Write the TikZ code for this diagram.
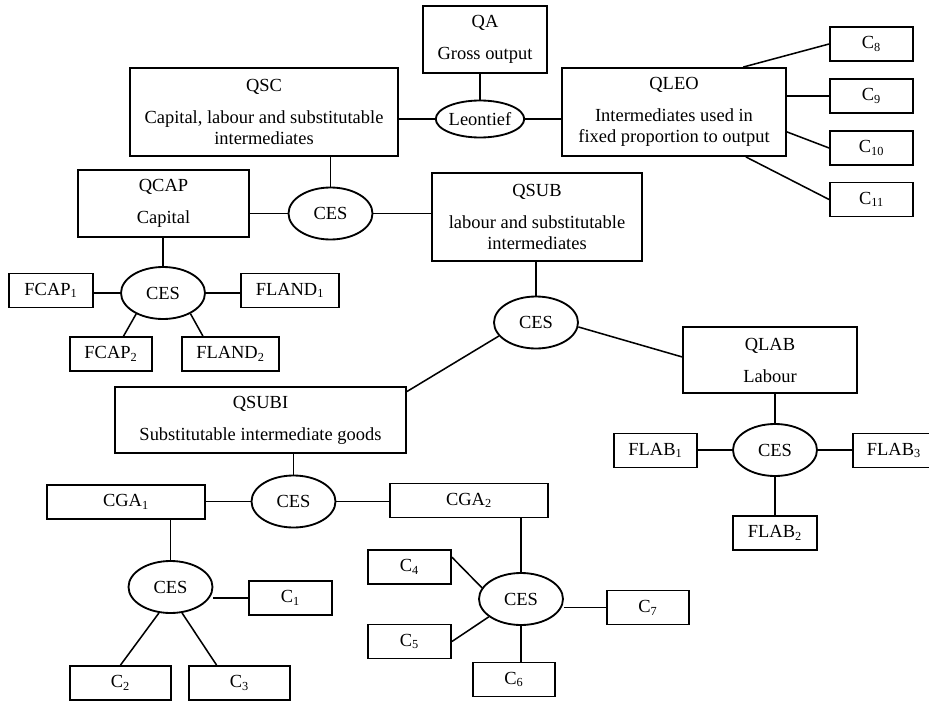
\documentclass[tikz,border=0pt]{standalone}
\usepackage{fontspec}
\setmainfont{Liberation Serif}
\usetikzlibrary{shapes.geometric}

\begin{document}
\begin{tikzpicture}[
  x=0.65pt,
  y=-0.65pt,
  every node/.style={font=\fontsize{12}{13.8}\selectfont},
  nest/.style 2 args={draw, line width=1.2pt, inner sep=0pt, align=center,
    minimum width=#1*0.65pt, minimum height=#2*0.65pt},
  input/.style={nest={#1}{34}},
  ces/.style={draw, ellipse, line width=1.2pt, inner sep=0pt,
    minimum width=84*0.65pt, minimum height=52*0.65pt},
  link/.style={line width=1pt},
]
\useasboundingbox (0,0) rectangle (929,702);

% Top level
\node[nest={124}{67}] (qa) at (485,39.5) {QA\\[7pt]Gross output};
\node[ces, minimum height=37*0.65pt] (leon) at (480,119) {Leontief};
\node[nest={268}{88}] (qsc) at (264,112) {QSC\\[7pt]Capital, labour and substitutable\\intermediates};
\node[nest={224}{88}] (qleo) at (674,112) {QLEO\\[7pt]Intermediates used in\\fixed proportion to output};

% Leontief intermediates
\node[input=83] (c8) at (871.5,44) {C\textsubscript{8}};
\node[input=83] (c9) at (871.5,96) {C\textsubscript{9}};
\node[input=83] (c10) at (871.5,148) {C\textsubscript{10}};
\node[input=83] (c11) at (871.5,199.5) {C\textsubscript{11}};

% Capital, labour and substitutable intermediates
\node[ces] (cesa) at (330.5,213.5) {CES};
\node[nest={171}{67}] (qcap) at (163.5,203.5) {QCAP\\[7pt]Capital};
\node[nest={210}{88}] (qsub) at (537,217) {QSUB\\[7pt]labour and substitutable\\intermediates};

% Capital
\node[ces] (cesb) at (163,293) {CES};
\node[input=84] (fcap1) at (51,290.5) {FCAP\textsubscript{1}};
\node[input=98] (fland1) at (290,290.5) {FLAND\textsubscript{1}};
\node[input=82] (fcap2) at (111,354) {FCAP\textsubscript{2}};
\node[input=97] (fland2) at (230.5,354) {FLAND\textsubscript{2}};

% Labour and substitutable intermediates
\node[ces] (cesc) at (536,322.5) {CES};
\node[nest={291}{66}] (qsubi) at (260.5,420) {QSUBI\\[7pt]Substitutable intermediate goods};
\node[nest={174}{66}] (qlab) at (770,360) {QLAB\\[7pt]Labour};

% Labour
\node[ces] (cesd) at (775,450) {CES};
\node[input=83] (flab1) at (655.5,450.5) {FLAB\textsubscript{1}};
\node[input=84] (flab2) at (775,533) {FLAB\textsubscript{2}};
\node[input=82] (flab3) at (894,450.5) {FLAB\textsubscript{3}};

% Substitutable intermediate goods
\node[ces] (cese) at (293.5,501.5) {CES};
\node[input=158] (cga1) at (126,502) {CGA\textsubscript{1}};
\node[input=158] (cga2) at (469,500.5) {CGA\textsubscript{2}};

% CGA 1
\node[ces] (cesf) at (170.5,587) {CES};
\node[input=83] (c1) at (290.5,598) {C\textsubscript{1}};
\node[input=101] (c2) at (120.5,683) {C\textsubscript{2}};
\node[input=101] (c3) at (239.5,683) {C\textsubscript{3}};

% CGA 2
\node[ces] (cesg) at (521,599) {CES};
\node[input=83] (c4) at (409.5,567) {C\textsubscript{4}};
\node[input=83] (c5) at (409.5,641.5) {C\textsubscript{5}};
\node[input=82] (c6) at (514,679.5) {C\textsubscript{6}};
\node[input=82] (c7) at (648,607.5) {C\textsubscript{7}};

% Links: straight down into the nests
\foreach \a/\b in {qa/leon, qsc/cesa, qcap/cesb, qsub/cesc,
                   qlab/cesd, qsubi/cese, cga1/cesf, cga2/cesg}
  \draw[link] (\b.north |- \a.south) -- (\b.north);

% Links: sideways
\foreach \a/\b in {qsc/leon, qcap/cesa, fcap1/cesb, flab1/cesd, cga1/cese}
  \draw[link] (\a.east |- \b.west) -- (\b.west);
\foreach \a/\b in {leon/qleo, cesa/qsub, cesb/fland1, cesd/flab3, cese/cga2}
  \draw[link] (\a.east) -- (\a.east -| \b.west);

% Links: the rest
\draw[link] (qleo.33) -- (c8.west);
\draw[link] (qleo.east |- c9.west) -- (c9.west);
\draw[link] (qleo.-10.6) -- (c10.west);
\draw[link] (qleo.-32.5) -- (c11.west);
\draw[link] (cesb.218) -- (fcap2.55);
\draw[link] (cesb.-37) -- (fland2.147);
\draw[link] (cesc.200) -- (qsubi.11);
\draw[link] (cesc.-6) -- (qlab.178);
\draw[link] (cesd.south) -- (flab2.north);
\draw[link] (c1.west -| cesf.east) -- (c1.west);
\draw[link] (cesf.246) -- (c2.north);
\draw[link] (cesf.-66) -- (c3.142);
\draw[link] (cesg.164) -- (c4.13);
\draw[link] (cesg.209) -- (c5.east);
\draw[link] (cesg.south) -- (cesg.south |- c6.north);
\draw[link] (c7.west -| cesg.east) -- (c7.west);

\end{tikzpicture}
\end{document}
